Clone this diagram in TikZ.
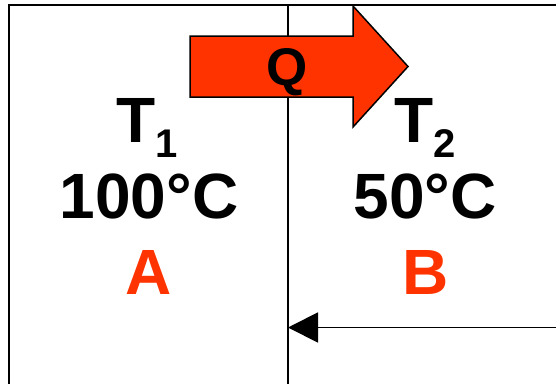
\documentclass[tikz,border=0pt]{standalone}
\usepackage{fontspec}
\setmainfont{Liberation Sans}
\usetikzlibrary{arrows.meta}
\definecolor{heat}{RGB}{255,51,0}
\begin{document}
\begin{tikzpicture}[x=1pt,y=-1pt,
  wall/.style={draw=black,line width=1.9pt},
  bigtxt/.style={font=\fontsize{64}{64}\selectfont\bfseries,anchor=base,inner sep=0pt},
  lbl/.style={bigtxt,text=heat},
  qarrow/.style={fill=heat,draw=black,line width=1.5pt,line join=miter}]
\useasboundingbox (0,0) rectangle (556,383);
% walls
\draw[wall] (9,385) -- (9,5) -- (560,5);
\draw[wall] (288,5) -- (288,385);
% heat arrow
\path[qarrow] (190,36) -- (353,36) -- (353,6) -- (408,66.5) -- (353,127) -- (353,97) -- (190,97) -- cycle;
\node[font=\fontsize{53}{53}\selectfont\bfseries,anchor=base,inner sep=0pt] (q) at (287.5,85) {Q};
% left
\node[bigtxt] (t1) at (147,142) {T\raisebox{-15pt}{\fontsize{40}{40}\selectfont 1}};
\node[bigtxt] (tA) at (149,218) {100°C};
\node[lbl] (a) at (149,294) {A};
% right
\node[bigtxt] (t2) at (425,142) {T\raisebox{-15pt}{\fontsize{40}{40}\selectfont 2}};
\node[bigtxt] (tB) at (425,218) {50°C};
\node[lbl] (b) at (426,294) {B};
% bottom arrow
\coordinate (s) at (560,327.5);
\coordinate (w) at (288,327.5);
\draw[line width=1.9pt,-{Triangle[length=30pt,width=30pt]}] (s) -- (w);
\end{tikzpicture}
\end{document}
